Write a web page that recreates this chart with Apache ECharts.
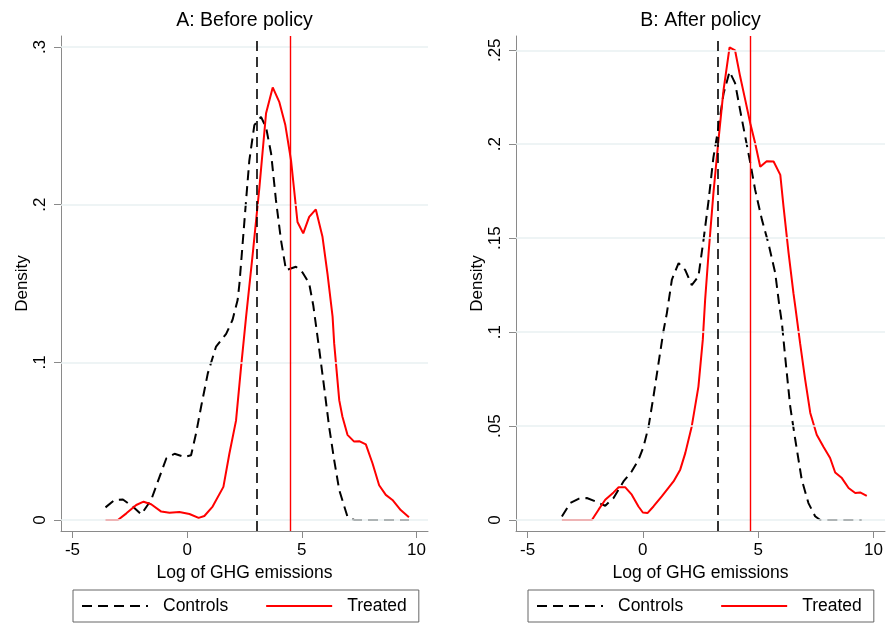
<!DOCTYPE html>
<html>
<head>
<meta charset="utf-8">
<script src="https://cdn.jsdelivr.net/npm/echarts@6/dist/echarts.min.js"></script>
<style>
  html, body { margin: 0; padding: 0; background: #fff; }
  #chart { width: 886px; height: 624px; }
</style>
</head>
<body>
<div id="chart"></div>
<script>
// Panel A: before policy, kernel density points [x, density]
const beforeControls = [[-3.56, 0.008], [-3.16, 0.0127], [-2.8, 0.013], [-2.37, 0.0085], [-2.0, 0.0036], [-1.57, 0.0127], [-1.2, 0.0275], [-0.91, 0.039], [-0.55, 0.042], [-0.12, 0.040], [0.17, 0.041], [0.39, 0.055], [0.61, 0.072], [0.9, 0.093], [1.26, 0.11], [1.7, 0.118], [1.98, 0.127], [2.2, 0.1395], [2.28, 0.15], [2.57, 0.203], [2.71, 0.228], [2.93, 0.2505], [3.22, 0.2557], [3.44, 0.249], [3.66, 0.2325], [3.87, 0.203], [4.09, 0.1776], [4.31, 0.1585], [4.74, 0.1606], [5.03, 0.157], [5.32, 0.150], [5.5, 0.136], [5.76, 0.108], [5.97, 0.0845], [6.19, 0.059], [6.41, 0.038], [6.63, 0.019], [6.99, 0.002], [7.28, 0], [9.67, 0]]
const beforeTreated = [[-3.56, 0], [-3.02, 0], [-2.65, 0.0042], [-2.22, 0.0095], [-1.9, 0.0116], [-1.57, 0.010], [-1.13, 0.0053], [-0.77, 0.0046], [-0.34, 0.005], [0.1, 0.0038], [0.5, 0.0013], [0.75, 0.0025], [1.11, 0.0085], [1.58, 0.021], [1.84, 0.042], [2.13, 0.063], [2.35, 0.097], [2.57, 0.129], [2.86, 0.169], [3.15, 0.211], [3.44, 0.258], [3.73, 0.2744], [4.02, 0.265], [4.28, 0.2505], [4.53, 0.228], [4.81, 0.189], [5.06, 0.1818], [5.32, 0.1923], [5.61, 0.197], [5.9, 0.1796], [6.12, 0.156], [6.34, 0.129], [6.41, 0.112], [6.63, 0.076], [6.77, 0.0655], [6.99, 0.054], [7.28, 0.0497], [7.5, 0.050], [7.79, 0.048], [8.08, 0.036], [8.37, 0.022], [8.66, 0.0159], [8.95, 0.0127], [9.31, 0.0063], [9.67, 0.0017]]
const beforeMeans = [3.05, 4.5] // controls, treated

// Panel B: after policy
const afterControls = [[-3.51, 0.0019], [-3.15, 0.009], [-2.79, 0.0113], [-2.43, 0.0117], [-2.06, 0.0099], [-1.63, 0.0076], [-1.27, 0.0117], [-0.84, 0.0205], [-0.48, 0.0259], [-0.19, 0.032], [0.03, 0.039], [0.25, 0.0498], [0.46, 0.0657], [0.68, 0.0835], [0.9, 0.101], [1.04, 0.110], [1.26, 0.128], [1.55, 0.1367], [1.84, 0.133], [2.12, 0.125], [2.41, 0.1296], [2.63, 0.149], [2.85, 0.170], [3.06, 0.193], [3.28, 0.209], [3.5, 0.227], [3.76, 0.2386], [4.0, 0.2325], [4.22, 0.218], [4.44, 0.204], [4.66, 0.190], [4.87, 0.1757], [5.16, 0.160], [5.45, 0.147], [5.74, 0.1314], [5.92, 0.114], [6.03, 0.1048], [6.17, 0.087], [6.39, 0.0604], [6.61, 0.0427], [6.89, 0.0214], [7.18, 0.009], [7.47, 0.002], [7.69, 0], [9.49, 0]]
const afterTreated = [[-3.51, 0], [-2.21, 0], [-1.92, 0.0055], [-1.63, 0.0108], [-1.27, 0.0147], [-1.05, 0.0174], [-0.76, 0.0174], [-0.48, 0.0135], [-0.19, 0.0072], [0, 0.004], [0.2, 0.0037], [0.46, 0.0072], [0.82, 0.0126], [1.33, 0.0205], [1.62, 0.0268], [1.84, 0.0356], [2.12, 0.0498], [2.41, 0.071], [2.6, 0.096], [2.7, 0.117], [2.85, 0.142], [3.06, 0.174], [3.28, 0.2023], [3.5, 0.2289], [3.76, 0.2516], [4.0, 0.2499], [4.22, 0.236], [4.44, 0.2236], [4.66, 0.211], [4.87, 0.2005], [5.09, 0.188], [5.37, 0.191], [5.67, 0.1908], [5.96, 0.1837], [6.1, 0.1668], [6.32, 0.142], [6.53, 0.1207], [6.61, 0.1136], [6.82, 0.094], [7.04, 0.0746], [7.26, 0.057], [7.54, 0.0454], [7.83, 0.039], [8.12, 0.033], [8.34, 0.0253], [8.63, 0.0223], [8.92, 0.017], [9.21, 0.0144], [9.42, 0.0147], [9.71, 0.0129]]
const afterMeans = [3.24, 4.65]

const titles = ['A: Before policy', 'B: After policy']
const xTicks = [-5, 0, 5, 10]
const beforeYTicks = [0, 0.1, 0.2, 0.3]
const afterYTicks = [0, 0.05, 0.1, 0.15, 0.2, 0.25]

const FONT = '"Liberation Sans", Arial, sans-serif'
const AXIS_GREY = '#8a8a8a'
const GRID_LINE = '#e8f0f2'
const DASH = [10, 6]

const panels = [
  { left: 61, width: 367, ymin: -0.007, ymax: 0.307, yTicks: beforeYTicks, controls: beforeControls, treated: beforeTreated, means: beforeMeans },
  { left: 516, width: 369, ymin: -0.00585, ymax: 0.2576, yTicks: afterYTicks, controls: afterControls, treated: afterTreated, means: afterMeans },
]

function tickLabel(v) {
  return v === 0 ? '0' : String(v).replace(/^0/, '').replace(/^-0/, '-')
}

const chart = echarts.init(document.getElementById('chart'))

const option = {
  backgroundColor: '#fff',
  animation: false,
  textStyle: { fontFamily: FONT },
  title: panels.map((p, i) => ({
    text: titles[i],
    left: p.left + p.width / 2,
    textAlign: 'center',
    top: 11,
    padding: 0,
    textStyle: { fontFamily: FONT, fontSize: 19.5, fontWeight: 'normal', color: '#000' },
  })),
  legend: panels.map((p, i) => ({
    data: ['Controls', 'Treated'],
    left: p.left + 12,
    top: 590,
    orient: 'horizontal',
    padding: [7, 12, 7, 8],
    borderColor: '#666',
    borderWidth: 1,
    itemWidth: 66,
    itemHeight: 14,
    itemGap: 37,
    selectedMode: false,
    itemStyle: { color: 'rgba(0,0,0,0)', borderWidth: 0, opacity: 0 },
    textStyle: { fontFamily: FONT, fontSize: 17.5, color: '#000', padding: [0, 0, 0, 10] },
  })),
  grid: panels.map((p) => ({ left: p.left, width: p.width, top: 36, height: 495 })),
  xAxis: panels.map((p, i) => ({
    type: 'value',
    gridIndex: i,
    min: -5.5,
    max: 10.5,
    name: 'Log of GHG emissions',
    nameLocation: 'middle',
    nameGap: 29,
    nameTextStyle: { fontFamily: FONT, fontSize: 17.5, color: '#000' },
    axisLine: { show: true, onZero: false, lineStyle: { color: AXIS_GREY, width: 1 } },
    axisTick: { show: true, length: 7, customValues: xTicks, lineStyle: { color: AXIS_GREY } },
    axisLabel: { customValues: xTicks, margin: 11, fontFamily: FONT, fontSize: 17, color: '#000', formatter: tickLabel },
    splitLine: { show: false },
  })),
  yAxis: panels.map((p, i) => ({
    type: 'value',
    gridIndex: i,
    min: p.ymin,
    max: p.ymax,
    name: 'Density',
    nameLocation: 'middle',
    nameGap: 30,
    nameTextStyle: { fontFamily: FONT, fontSize: 17, color: '#000' },
    axisLine: { show: true, onZero: false, lineStyle: { color: AXIS_GREY, width: 1 } },
    axisTick: { show: true, length: 7, customValues: p.yTicks, lineStyle: { color: AXIS_GREY } },
    axisLabel: { customValues: p.yTicks, rotate: 90, margin: 12, fontFamily: FONT, fontSize: 17, color: '#000', formatter: tickLabel },
    splitLine: { show: false },
  })),
  series: [],
}

panels.forEach((p, i) => {
  option.series.push({
    name: 'Controls',
    type: 'line',
    xAxisIndex: i,
    yAxisIndex: i,
    data: p.controls,
    symbol: 'none',
    z: 3,
    lineStyle: { color: '#000', width: 2, type: DASH },
    itemStyle: { color: '#000' },
    markLine: {
      silent: true,
      symbol: ['none', 'none'],
      label: { show: false },
      data: p.yTicks.map((v) => ({ yAxis: v, lineStyle: { color: GRID_LINE, width: 1.5, type: 'solid' } }))
        .concat([{ xAxis: p.means[0], lineStyle: { color: '#000', width: 1.6, type: DASH } }]),
    },
  })
  option.series.push({
    name: 'Treated',
    type: 'line',
    xAxisIndex: i,
    yAxisIndex: i,
    data: p.treated,
    symbol: 'none',
    z: 4,
    lineStyle: { color: '#ff0000', width: 2 },
    itemStyle: { color: '#ff0000' },
    markLine: {
      silent: true,
      symbol: ['none', 'none'],
      label: { show: false },
      data: [{ xAxis: p.means[1], lineStyle: { color: '#ff0000', width: 1.4, type: 'solid' } }],
    },
  })
})

chart.setOption(option)
</script>
</body>
</html>
